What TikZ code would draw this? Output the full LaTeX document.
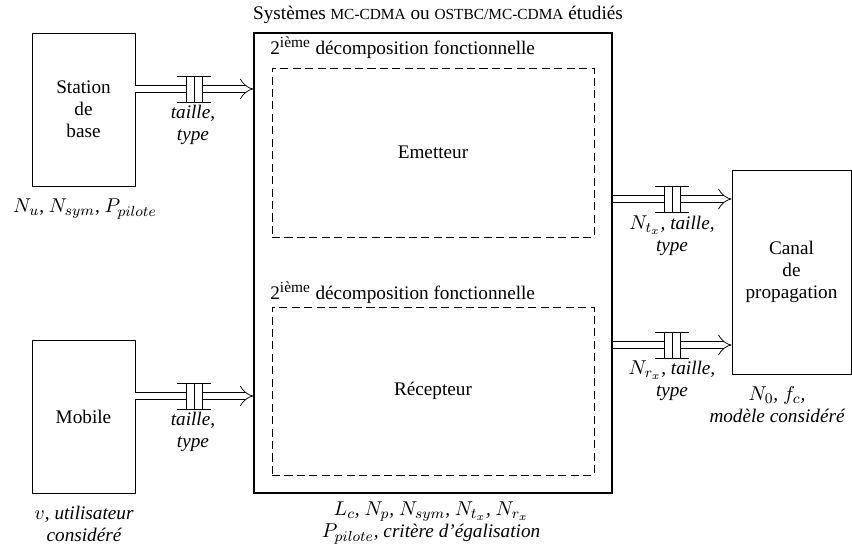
\documentclass[tikz,border=0pt]{standalone}
\usepackage{fontspec}
\setmainfont{Liberation Serif}[Scale=1.05]
\DeclareMathSizes{10}{10.5}{8}{6}
\usetikzlibrary{arrows.meta}

% petites capitales simulees
\newcommand{\pcap}[1]{{\fontsize{8}{9.6}\selectfont #1}}

\tikzset{
  bloc/.style={draw, line width=0.4pt, align=center, inner sep=0pt},
  zone/.style={draw, dash pattern=on 4.4pt off 2.4pt, align=center, inner sep=0pt},
  bus/.style={double, double distance=1.3mm, line width=0.4pt, -{Implies}},
  legende/.style={align=center, font=\itshape},
  jonction/.pic={
    \fill[white] (-8,-13) rectangle (8,13);
    \draw (-8,-13) -- (-8,13) (0,-13) -- (0,13) (8,-13) -- (8,13);
    \draw (-17,-13) -- (17,-13) (-17,13) -- (17,13);
  },
}

\begin{document}
\begin{tikzpicture}[x=0.192mm, y=-0.192mm]
\useasboundingbox (0,0) rectangle (852,546);

% blocs
\node[bloc, minimum width=103*0.192mm, minimum height=153*0.192mm] (station) at (83.5,109.5) {Station\\de\\base};
\node[bloc, minimum width=103*0.192mm, minimum height=153*0.192mm] (mobile) at (83.5,416.5) {Mobile};
\node[bloc, line width=0.6pt, minimum width=358*0.192mm, minimum height=460*0.192mm] (systeme) at (433,263) {};
\node[bloc, minimum width=119*0.192mm, minimum height=204*0.192mm] (canal) at (791.5,272) {Canal\\de\\propagation};
\node[zone, minimum width=322*0.192mm, minimum height=169*0.192mm] (emetteur) at (433,152.5) {Emetteur};
\node[zone, minimum width=322*0.192mm, minimum height=168*0.192mm] (recepteur) at (433,391) {Récepteur};

% titres
\node (titre) at (438,15) {Systèmes \pcap{MC-CDMA} ou \pcap{OSTBC/MC-CDMA} étudiés};
\node[anchor=west, inner sep=0pt] (decomp1) at (270,48) {2\textsuperscript{ième} décomposition fonctionnelle};
\node[anchor=west, inner sep=0pt] (decomp2) at (270,293) {2\textsuperscript{ième} décomposition fonctionnelle};

% liaisons
\draw[bus] (station.east |- 0,89) -- coordinate[midway] (j1) (systeme.west |- 0,89);
\draw[bus] (mobile.east |- 0,396) -- coordinate[midway] (j2) (systeme.west |- 0,396);
\draw[bus] (systeme.east |- 0,199) -- coordinate[midway] (j3) (canal.west |- 0,199);
\draw[bus] (systeme.east |- 0,345) -- coordinate[midway] (j4) (canal.west |- 0,345);
\pic at (j1) {jonction};
\pic at (j2) {jonction};
\pic at (j3) {jonction};
\pic at (j4) {jonction};

% parametres
\node[legende] (p1) at (193,125) {taille,\\type};
\node[legende] (p2) at (193,432) {taille,\\type};
\node[legende] (p3) at (672,236) {$N_{t_x}$, taille,\\type};
\node[legende] (p4) at (672,381) {$N_{r_x}$, taille,\\type};
\node (ps) at (85,209) {$N_u$, $N_{sym}$, $P_{pilote}$};
\node[legende] (pm) at (84,524) {$v$, utilisateur\\considéré};
\node[legende] (psys) at (431,523) {$L_c$, $N_p$, $N_{sym}$, $N_{t_x}$, $N_{r_x}$\\$P_{pilote}$, critère d'égalisation};
\node[legende] (pc) at (777,405) {$N_0$, $f_c$,\\modèle considéré};
\end{tikzpicture}
\end{document}
